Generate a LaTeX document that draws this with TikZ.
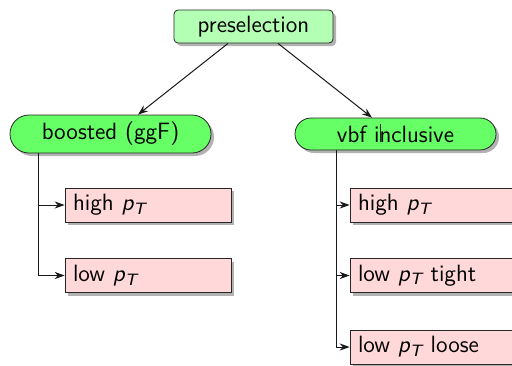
\documentclass[tikz,border=0pt]{standalone}
\usetikzlibrary{shapes.misc,shadows,calc,arrows.meta}
\definecolor{toplight}{RGB}{179,255,179}
\definecolor{midgreen}{RGB}{102,255,102}
\definecolor{leafpink}{RGB}{255,217,217}
\begin{document}
\begin{tikzpicture}[x=0.5pt,y=-0.5pt,
  font=\sffamily\fontsize{11.8}{14}\selectfont,
  shad/.style={drop shadow={shadow xshift=1.5pt,shadow yshift=-1.5pt,opacity=0.3,fill=black}},
  topbox/.style={draw=black!85,fill=toplight,rounded corners=2pt,minimum width=79.5pt,minimum height=16.5pt,shad,inner sep=0pt},
  catbox/.style={draw=black!85,fill=midgreen,rounded rectangle,minimum width=100.5pt,shad,inner sep=0pt},
  leafbox/.style={draw=black!85,fill=leafpink,minimum width=83pt,minimum height=17pt,text width=75pt,align=left,inner xsep=4pt,inner ysep=0pt,shad},
  conn/.style={draw=black!90,line width=0.5pt,-{Stealth[length=5pt,width=3.6pt]}}
]
\useasboundingbox (0,0) rectangle (512,365);
\node[topbox] (pre) at (253.5,26.5) {preselection};
\node[catbox,minimum height=19pt] (boost) at (110.5,134) {boosted (ggF)};
\node[catbox,minimum height=16pt] (vbf) at (395.5,134) {vbf inclusive};
\node[leafbox] (bh) at (148,205) {high {\itshape p}\textsubscript{\itshape T}};
\node[leafbox] (bl) at (148,275.5) {low {\itshape p}\textsubscript{\itshape T}};
\node[leafbox] (vh) at (433,205) {high {\itshape p}\textsubscript{\itshape T}};
\node[leafbox] (vt) at (433,275.5) {low {\itshape p}\textsubscript{\itshape T} tight};
\node[leafbox] (vl) at (433,347) {low {\itshape p}\textsubscript{\itshape T} loose};
\draw[conn] ($(pre.south)+(-25.5,0)$) -- ($(boost.north)+(27.5,0)$);
\draw[conn] ($(pre.south)+(24.5,0)$) -- ($(vbf.north)+(-23.5,0)$);
\draw[conn] ($(boost.south)+(-72.5,0)$) |- (bh.west);
\draw[conn] ($(boost.south)+(-72.5,0)$) |- (bl.west);
\draw[conn] ($(vbf.south)+(-59.5,0)$) |- (vh.west);
\draw[conn] ($(vbf.south)+(-59.5,0)$) |- (vt.west);
\draw[conn] ($(vbf.south)+(-59.5,0)$) |- (vl.west);
\draw[black!85,line width=0.4pt] ($(vbf.center)+(-15,-10)$) -- ($(vbf.center)+(-15,8)$);
\end{tikzpicture}
\end{document}
